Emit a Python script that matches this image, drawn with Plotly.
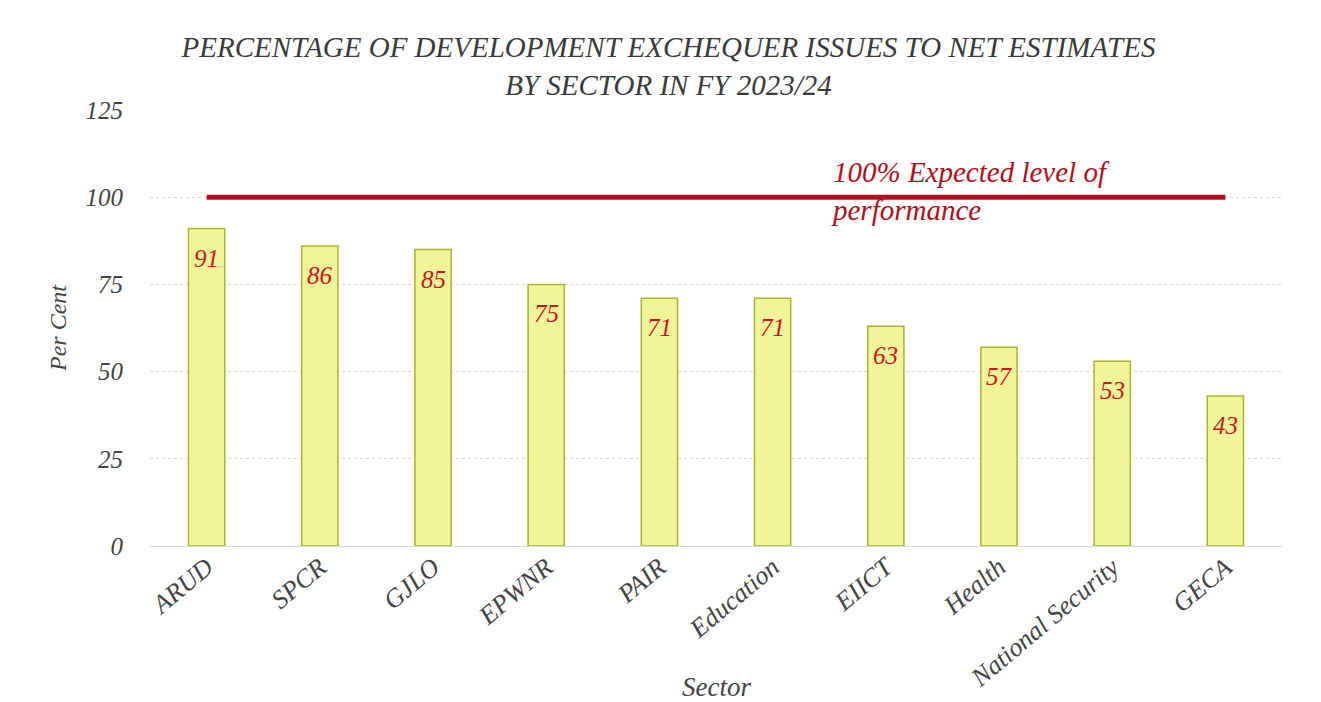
import plotly.graph_objects as go

sectors = ["ARUD", "SPCR", "GJLO", "EPWNR", "PAIR", "Education",
           "EIICT", "Health", "National Security", "GECA"]
percent = [91, 86, 85, 75, 71, 71, 63, 57, 53, 43]
expected = [100, 100]

serif = "Liberation Serif"
red = "#c8161d"

fig = go.Figure()

fig.add_trace(go.Bar(
    x=sectors, y=percent,
    marker=dict(color="#f1f59a", line=dict(color="#a9b52a", width=1.5)),
    showlegend=False,
    hoverinfo="x+y",
))

# expected-level line from first to last sector
fig.add_trace(go.Scatter(
    x=[sectors[0], sectors[-1]], y=expected,
    mode="lines", line=dict(color="#b0101c", width=5),
    showlegend=False, hoverinfo="skip",
))

for s, v in zip(sectors, percent):
    fig.add_annotation(
        x=s, y=v, text=str(v), showarrow=False,
        yanchor="top", yshift=-14,
        font=dict(family=serif, size=25, color=red, style="italic"),
    )

fig.add_annotation(
    xref="paper", x=0.6, y=100, xanchor="left", yanchor="middle",
    yshift=6,
    text="100% Expected level of<br>performance", align="left",
    showarrow=False,
    font=dict(family=serif, size=29, color="#b0101c", style="italic"),
)

# axis title placed by hand so the tick labels keep the plot height
fig.add_annotation(
    xref="paper", yref="paper", x=0.5, y=-0.324, yanchor="middle",
    text="Sector", showarrow=False,
    font=dict(family=serif, size=27, color="#444444", style="italic"),
)

fig.update_layout(
    width=1321, height=702,
    paper_bgcolor="white", plot_bgcolor="white",
    margin=dict(l=142, r=47, t=102, b=164),
    bargap=0.68,
    font=dict(family=serif, color="#444444", style="italic"),
    title=dict(
        text="PERCENTAGE OF DEVELOPMENT EXCHEQUER ISSUES TO NET ESTIMATES<br>BY SECTOR IN FY 2023/24",
        x=0.5, xanchor="center", y=0.93, yanchor="middle",
        font=dict(family=serif, size=29, color="#3a3a3a", style="italic"),
    ),
    xaxis=dict(
        automargin=False,
        tickangle=-40, tickfont=dict(size=26, color="#444444"),
        showgrid=False, showline=False, ticks="",
    ),
    yaxis=dict(
        title=dict(text="Per Cent", font=dict(size=24), standoff=12),
        range=[0, 125], tickvals=[0, 25, 50, 75, 100, 125],
        tickfont=dict(size=25, color="#444444"),
        ticklabelstandoff=26,
        showgrid=True, gridcolor="#dcd2d6", griddash="dot", gridwidth=1,
        zeroline=True, zerolinecolor="#d9d9d9", zerolinewidth=1,
        showline=False, ticks="",
    ),
)

fig.write_html("out.html")
